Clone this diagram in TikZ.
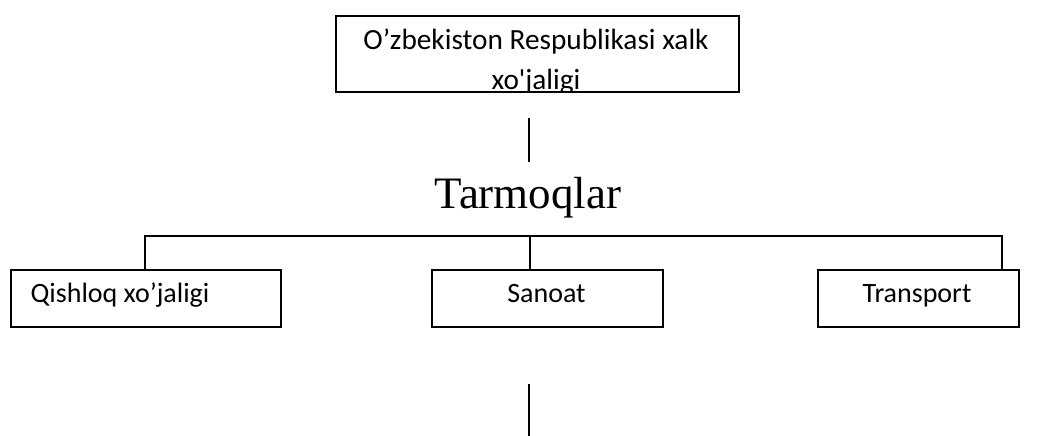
\documentclass[tikz,border=0pt]{standalone}
\usepackage{fontspec}
\setmainfont{Carlito}
\newfontfamily\timesf{Liberation Serif}
\begin{document}
\begin{tikzpicture}[x=1pt,y=-1pt,
  box/.style={draw,line width=2pt,inner sep=0pt,anchor=north west},
  lbl/.style={font=\fontsize{29.3}{34}\selectfont,inner sep=0pt,anchor=base},
  sublbl/.style={font=\fontsize{28}{34}\selectfont,inner sep=0pt,anchor=base},
  conn/.style={line width=2pt}]
\useasboundingbox (0,0) rectangle (1039,436);
% top box
\begin{scope}
\clip (335,15) rectangle (738,90);
\node[lbl] (t1) at (536,49.5) {O’zbekiston Respublikasi xalk};
\node[lbl] (t2) at (536,89) {xo\textquotesingle jaligi};
\end{scope}
\node[box,minimum width=403pt,minimum height=76pt] (top) at (335,15) {};
% vertical stub under top box
\coordinate (v1a) at (529,118);
\coordinate (v1b) at (529,162);
\draw[conn] (v1a) -- (v1b);
% heading
\node[inner sep=0pt,anchor=base,font=\timesf\fontsize{45}{50}\selectfont] (tar) at (528,208) {Tarmoqlar};
% lower boxes
\node[box,minimum width=270pt,minimum height=57pt] (q) at (10,269) {};
\node[box,minimum width=231pt,minimum height=57pt] (s) at (431,269) {};
\node[box,minimum width=201pt,minimum height=57pt] (t) at (817,269) {};
\node[sublbl] (ql) at (120,302) {Qishloq xo’jaligi};
\node[sublbl] (sl) at (546.5,302) {Sanoat};
\node[sublbl] (tl) at (917,302) {Transport};
% connectors
\coordinate (hl) at (145,235.5);
\coordinate (hr) at (1002,235.5);
\coordinate (sj) at (530,235.5);
\draw[conn] (q.north -| hl) -- (hl) -- (hr) -- (t.north -| hr);
\draw[conn] (sj) -- (s.north -| sj);
% bottom stub
\coordinate (b1) at (529,384);
\coordinate (b2) at (529,436);
\draw[conn] (b1) -- (b2);
\end{tikzpicture}
\end{document}
